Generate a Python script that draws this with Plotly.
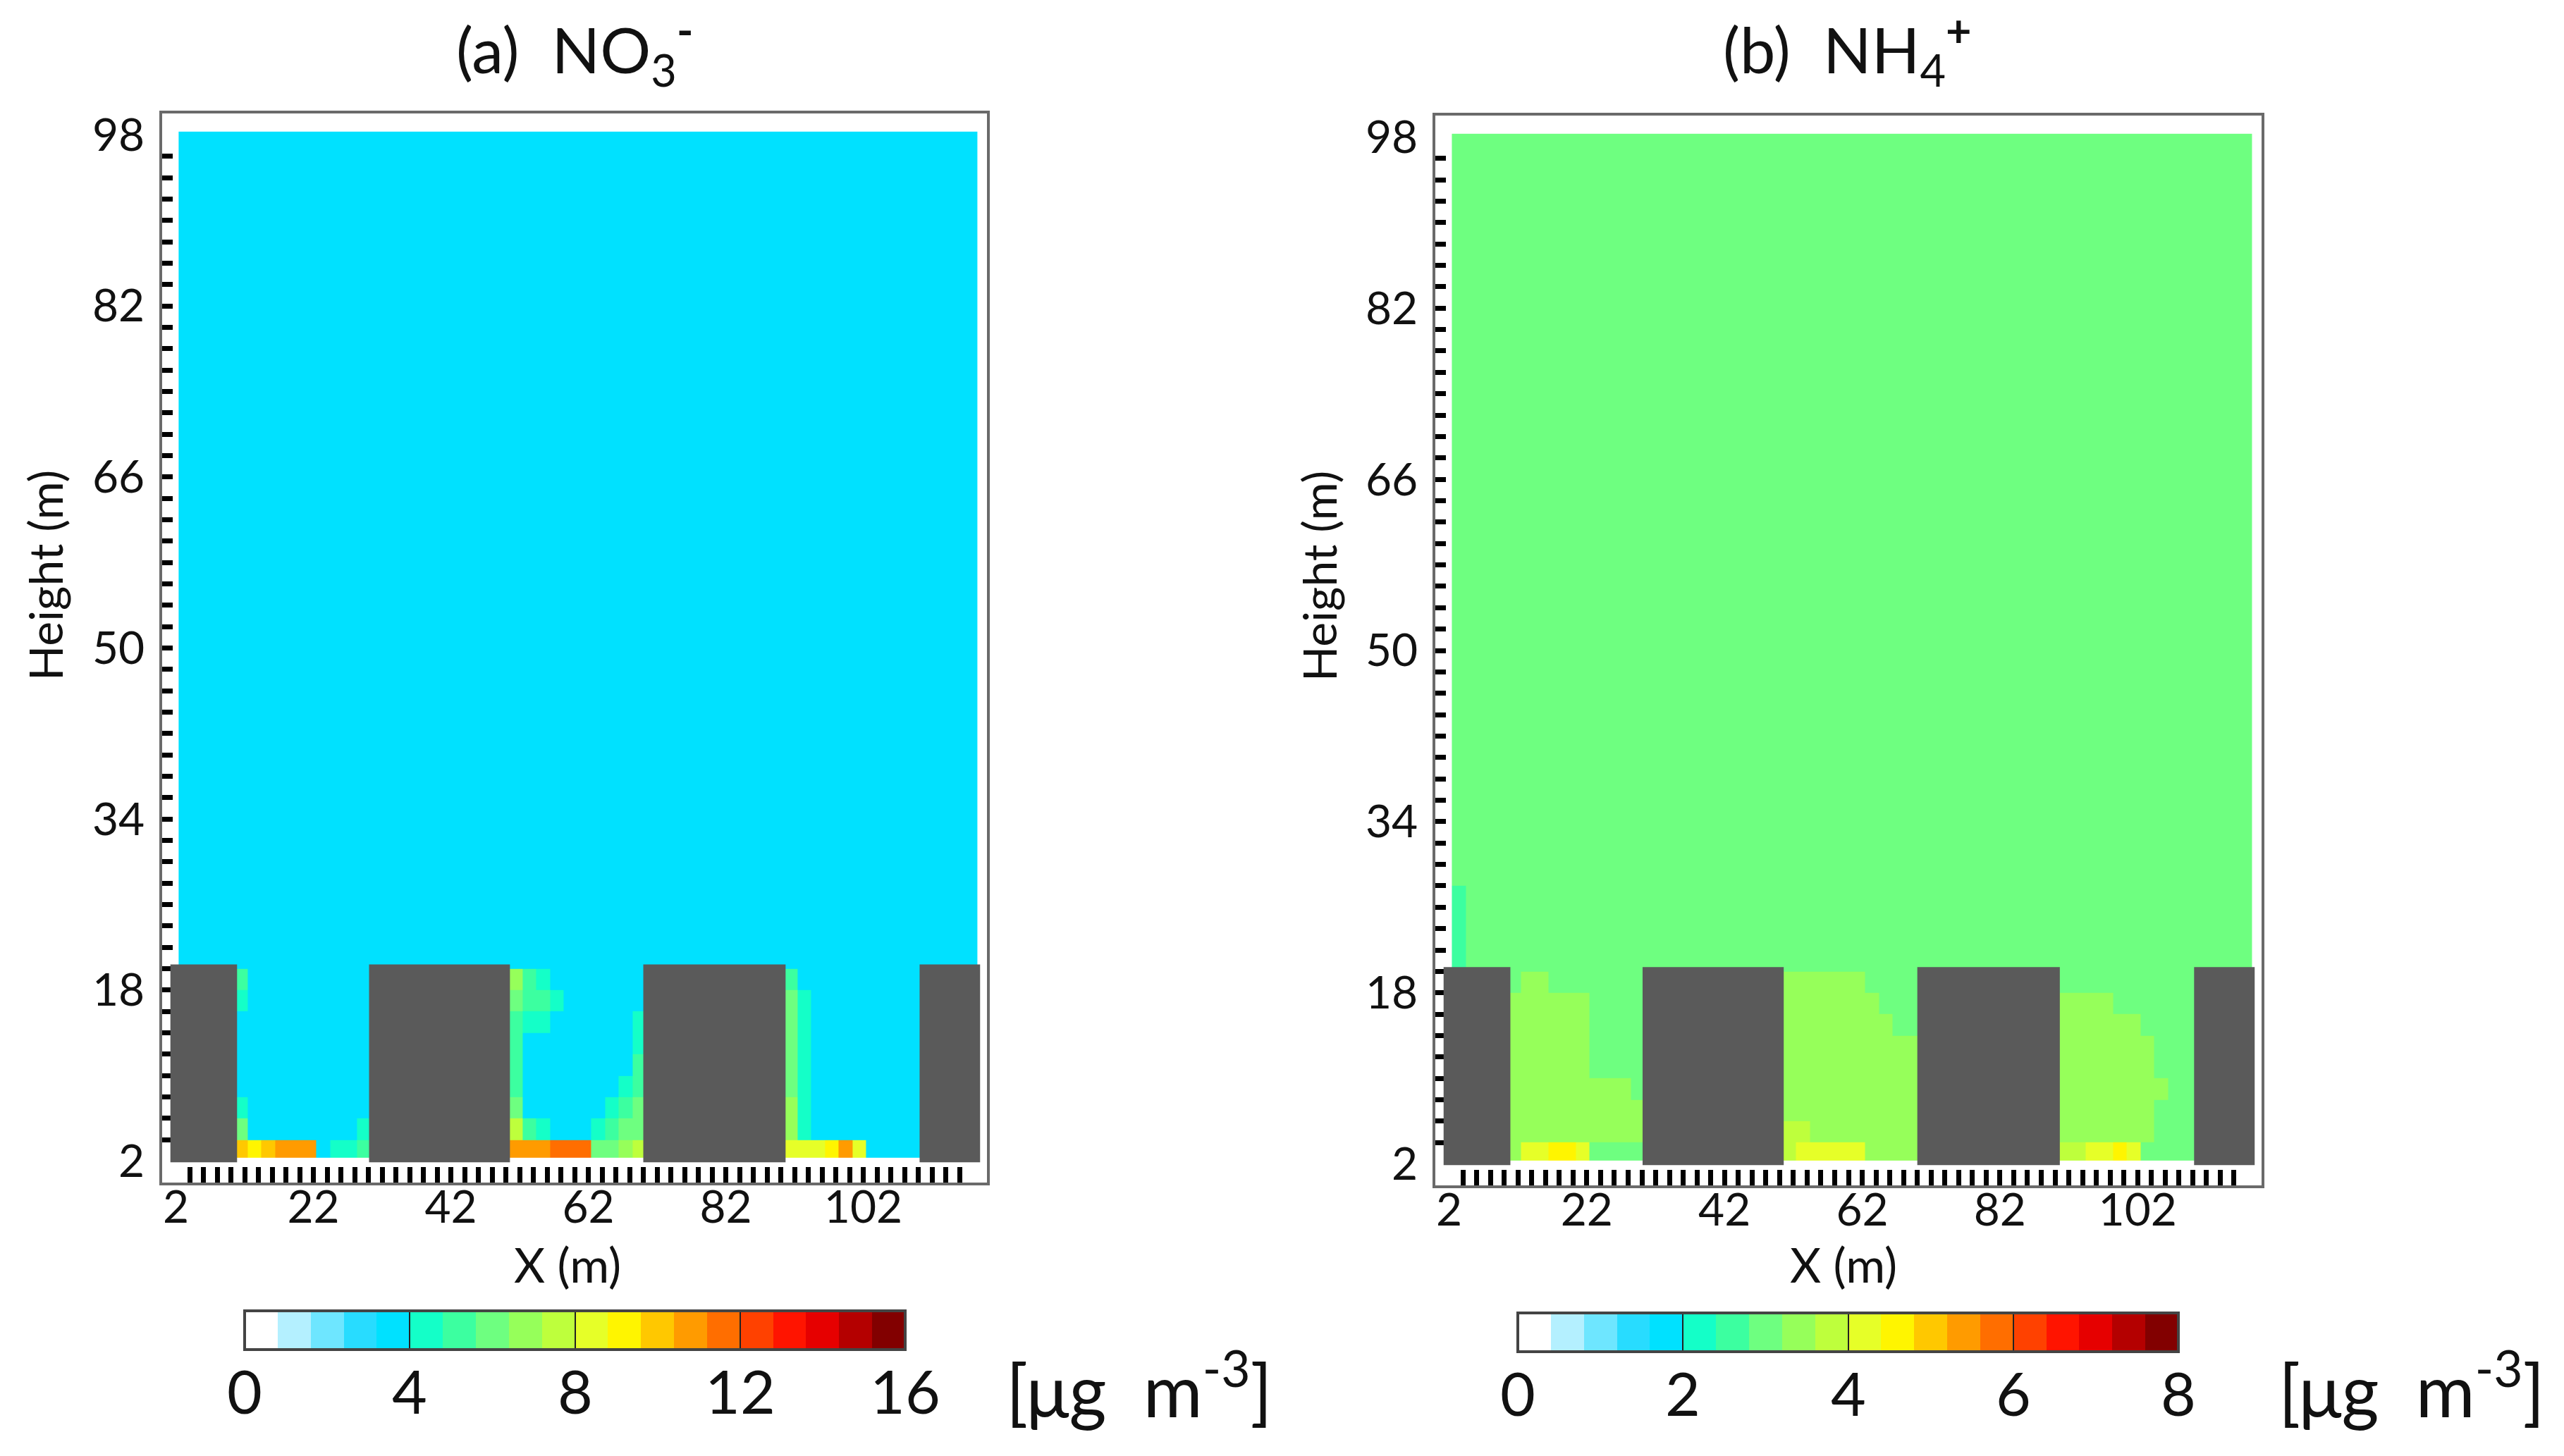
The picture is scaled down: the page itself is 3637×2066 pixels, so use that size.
import plotly.graph_objects as go

W = 3637
H = 2066
PAGE_MARGIN = 8

# 20 colour levels shared by both panels
level_colors = ['#FFFFFF', '#B4F0FF', '#6EE6FF', '#28DCFF', '#00E1FF',
                '#14FFC8', '#3CFFA0', '#6EFF80', '#96FF5A', '#BEFF3C',
                '#E6FF28', '#FFF500', '#FFC800', '#FF9B00', '#FF6E00',
                '#FF4100', '#FF1400', '#E60000', '#B40000', '#820000']

x_edges = [2.4 + 2 * i for i in range(58)] + [118.6]
y_edges = [2.3] + [4 + 2 * i for i in range(47)] + [98.3]

x_labels = [2, 22, 42, 62, 82, 102]
y_labels = [2, 18, 34, 50, 66, 82, 98]
x_minor = list(range(4, 118, 2))
y_minor = list(range(4, 98, 2))

building_left = [1.2, 30.1, 70.0, 110.2]
building_right = [10.9, 50.6, 90.7, 119.0]
building_bottom = 1.9
building_top = 20.4

# first column of each street canyon in the grid
canyon_start = [4, 24, 44]

no3_background = 3.6
# rows run from the ground up, ten columns per canyon
no3_canyon1 = [
    [10.0, 9.2, 10.0, 10.8, 10.8, 10.8, 3.6, 4.4, 4.4, 5.2],
    [6.0, 3.6, 3.6, 3.6, 3.6, 3.6, 3.6, 3.6, 3.6, 4.4],
    [4.4, 3.6, 3.6, 3.6, 3.6, 3.6, 3.6, 3.6, 3.6, 3.6],
    [3.6, 3.6, 3.6, 3.6, 3.6, 3.6, 3.6, 3.6, 3.6, 3.6],
    [3.6, 3.6, 3.6, 3.6, 3.6, 3.6, 3.6, 3.6, 3.6, 3.6],
    [3.6, 3.6, 3.6, 3.6, 3.6, 3.6, 3.6, 3.6, 3.6, 3.6],
    [3.6, 3.6, 3.6, 3.6, 3.6, 3.6, 3.6, 3.6, 3.6, 3.6],
    [4.4, 3.6, 3.6, 3.6, 3.6, 3.6, 3.6, 3.6, 3.6, 3.6],
    [5.2, 3.6, 3.6, 3.6, 3.6, 3.6, 3.6, 3.6, 3.6, 3.6],
]
no3_canyon2 = [
    [10.8, 10.8, 10.8, 11.6, 11.6, 11.6, 6.0, 6.0, 6.8, 7.6],
    [7.6, 5.2, 4.4, 3.6, 3.6, 3.6, 4.4, 5.2, 6.0, 6.0],
    [6.0, 3.6, 3.6, 3.6, 3.6, 3.6, 3.6, 4.4, 5.2, 6.0],
    [5.2, 3.6, 3.6, 3.6, 3.6, 3.6, 3.6, 3.6, 4.4, 5.2],
    [5.2, 3.6, 3.6, 3.6, 3.6, 3.6, 3.6, 3.6, 3.6, 5.2],
    [5.2, 3.6, 3.6, 3.6, 3.6, 3.6, 3.6, 3.6, 3.6, 4.4],
    [5.2, 4.4, 4.4, 3.6, 3.6, 3.6, 3.6, 3.6, 3.6, 4.4],
    [6.0, 5.2, 5.2, 4.4, 3.6, 3.6, 3.6, 3.6, 3.6, 3.6],
    [6.8, 5.2, 4.4, 3.6, 3.6, 3.6, 3.6, 3.6, 3.6, 3.6],
]
no3_canyon3 = [
    [8.4, 8.4, 8.4, 9.2, 10.8, 8.4, 3.6, 3.6, 3.6, 3.6],
    [6.8, 4.4, 3.6, 3.6, 3.6, 3.6, 3.6, 3.6, 3.6, 3.6],
    [6.8, 4.4, 3.6, 3.6, 3.6, 3.6, 3.6, 3.6, 3.6, 3.6],
    [6.0, 4.4, 3.6, 3.6, 3.6, 3.6, 3.6, 3.6, 3.6, 3.6],
    [6.0, 4.4, 3.6, 3.6, 3.6, 3.6, 3.6, 3.6, 3.6, 3.6],
    [6.0, 4.4, 3.6, 3.6, 3.6, 3.6, 3.6, 3.6, 3.6, 3.6],
    [6.0, 4.4, 3.6, 3.6, 3.6, 3.6, 3.6, 3.6, 3.6, 3.6],
    [6.0, 4.4, 3.6, 3.6, 3.6, 3.6, 3.6, 3.6, 3.6, 3.6],
    [5.2, 3.6, 3.6, 3.6, 3.6, 3.6, 3.6, 3.6, 3.6, 3.6],
]

nh4_background = 3.0
nh4_canyon1 = [
    [3.4, 4.2, 4.2, 4.6, 4.6, 4.2, 3.0, 3.0, 3.0, 3.0],
    [3.4, 3.4, 3.4, 3.4, 3.4, 3.4, 3.4, 3.4, 3.4, 3.4],
    [3.4, 3.4, 3.4, 3.4, 3.4, 3.4, 3.4, 3.4, 3.4, 3.4],
    [3.4, 3.4, 3.4, 3.4, 3.4, 3.4, 3.4, 3.4, 3.4, 3.0],
    [3.4, 3.4, 3.4, 3.4, 3.4, 3.4, 3.0, 3.0, 3.0, 3.0],
    [3.4, 3.4, 3.4, 3.4, 3.4, 3.4, 3.0, 3.0, 3.0, 3.0],
    [3.4, 3.4, 3.4, 3.4, 3.4, 3.4, 3.0, 3.0, 3.0, 3.0],
    [3.4, 3.4, 3.4, 3.4, 3.4, 3.4, 3.0, 3.0, 3.0, 3.0],
    [3.0, 3.4, 3.4, 3.0, 3.0, 3.0, 3.0, 3.0, 3.0, 3.0],
]
nh4_canyon2 = [
    [3.8, 4.2, 4.2, 4.2, 4.2, 4.2, 3.4, 3.4, 3.4, 3.4],
    [3.8, 3.8, 3.4, 3.4, 3.4, 3.4, 3.4, 3.4, 3.4, 3.4],
    [3.4, 3.4, 3.4, 3.4, 3.4, 3.4, 3.4, 3.4, 3.4, 3.4],
    [3.4, 3.4, 3.4, 3.4, 3.4, 3.4, 3.4, 3.4, 3.4, 3.4],
    [3.4, 3.4, 3.4, 3.4, 3.4, 3.4, 3.4, 3.4, 3.4, 3.4],
    [3.4, 3.4, 3.4, 3.4, 3.4, 3.4, 3.4, 3.4, 3.4, 3.4],
    [3.4, 3.4, 3.4, 3.4, 3.4, 3.4, 3.4, 3.4, 3.0, 3.0],
    [3.4, 3.4, 3.4, 3.4, 3.4, 3.4, 3.4, 3.0, 3.0, 3.0],
    [3.4, 3.4, 3.4, 3.4, 3.4, 3.4, 3.0, 3.0, 3.0, 3.0],
]
nh4_canyon3 = [
    [3.8, 3.8, 4.2, 4.2, 4.6, 4.2, 3.0, 3.0, 3.0, 3.0],
    [3.4, 3.4, 3.4, 3.4, 3.4, 3.4, 3.4, 3.0, 3.0, 3.0],
    [3.4, 3.4, 3.4, 3.4, 3.4, 3.4, 3.4, 3.0, 3.0, 3.0],
    [3.4, 3.4, 3.4, 3.4, 3.4, 3.4, 3.4, 3.4, 3.0, 3.0],
    [3.4, 3.4, 3.4, 3.4, 3.4, 3.4, 3.4, 3.0, 3.0, 3.0],
    [3.4, 3.4, 3.4, 3.4, 3.4, 3.4, 3.4, 3.0, 3.0, 3.0],
    [3.4, 3.4, 3.4, 3.4, 3.4, 3.4, 3.0, 3.0, 3.0, 3.0],
    [3.4, 3.4, 3.4, 3.4, 3.0, 3.0, 3.0, 3.0, 3.0, 3.0],
    [3.0, 3.0, 3.0, 3.0, 3.0, 3.0, 3.0, 3.0, 3.0, 3.0],
]
# slightly lower column along the left edge, just above the first building
nh4_edge_rows = [9, 10, 11, 12]
nh4_edge_value = 2.6

FONT = 'Lato'
BAR_LEN = 937


def build_grid(background, canyons):
    grid = [[background] * (len(x_edges) - 1) for _ in range(len(y_edges) - 1)]
    for start, canyon in zip(canyon_start, canyons):
        for r, row in enumerate(canyon):
            grid[r][start:start + len(row)] = row
    return grid


def stepped_scale():
    scale = []
    n = len(level_colors)
    for i, c in enumerate(level_colors):
        scale.append([i / n, c])
        scale.append([(i + 1) / n, c])
    return scale


def xp(px):
    return (px - PAGE_MARGIN) / W


def yp(px):
    return 1 - (px - PAGE_MARGIN) / H


no3_grid = build_grid(no3_background, [no3_canyon1, no3_canyon2, no3_canyon3])
nh4_grid = build_grid(nh4_background, [nh4_canyon1, nh4_canyon2, nh4_canyon3])
for r in nh4_edge_rows:
    nh4_grid[r][0] = nh4_edge_value

fig = go.Figure()

panels = [
    dict(grid=no3_grid, zmax=16, ticks=[0, 4, 8, 12, 16], xa='x', ya='y',
         frame=(230, 1400, 161, 1678), bar=(347, 1860),
         title='(a)  NO<sub>3</sub><sup><b>-</b></sup>', title_x=815, unit_x=1616, xlab_x=805, ylab_x=63),
    dict(grid=nh4_grid, zmax=8, ticks=[0, 2, 4, 6, 8], xa='x2', ya='y2',
         frame=(2036, 3208, 164, 1682), bar=(2153, 1863),
         title='(b)  NH<sub>4</sub><sup><b>+</b></sup>', title_x=2620, unit_x=3421, xlab_x=2615, ylab_x=1870),
]

for p in panels:
    fig.add_trace(go.Heatmap(
        x=x_edges, y=y_edges, z=p['grid'],
        xaxis=p['xa'], yaxis=p['ya'],
        zmin=0, zmax=p['zmax'],
        colorscale=stepped_scale(),
        colorbar=dict(
            orientation='h',
            x=xp(p['bar'][0]), xanchor='left', xpad=0,
            y=yp(p['bar'][1]), yanchor='top', ypad=0,
            len=BAR_LEN, lenmode='pixels',
            thickness=55, thicknessmode='pixels',
            outlinecolor='#444444', outlinewidth=4,
            tickvals=p['ticks'], ticks='inside', ticklen=55,
            tickcolor='#222222', tickwidth=2,
            showticklabels=False,
        ),
    ))

    for left, right in zip(building_left, building_right):
        fig.add_shape(type='rect', xref=p['xa'], yref=p['ya'],
                      x0=left, x1=right, y0=building_bottom, y1=building_top,
                      fillcolor='#5A5A5A', line_width=0, layer='above')

    # colour bar labels sit closer to the bar than plotly's own tick labels can
    for t in p['ticks']:
        fig.add_annotation(xref='paper', yref='paper',
                           x=xp(p['bar'][0] + BAR_LEN * t / p['zmax']), y=yp(p['bar'][1] + 112),
                           text=str(t), showarrow=False, xanchor='center', yanchor='middle',
                           font=dict(family=FONT, size=86, color='#111111'))

    fig.add_annotation(xref='paper', yref='paper', x=xp(p['title_x']), y=yp(70),
                       text=p['title'], showarrow=False, xanchor='center', yanchor='middle',
                       font=dict(family=FONT, size=90, color='#111111'))
    fig.add_annotation(xref='paper', yref='paper', x=xp(p['unit_x']), y=yp(1965),
                       text='[μg  m<sup>-3</sup>]', showarrow=False, xanchor='center', yanchor='middle',
                       font=dict(family=FONT, size=102, color='#111111'))
    fig.add_annotation(xref='paper', yref='paper', x=xp(p['xlab_x']), y=yp(1793),
                       text='X (m)', showarrow=False, xanchor='center', yanchor='middle',
                       font=dict(family=FONT, size=68, color='#111111'))
    fig.add_annotation(xref='paper', yref='paper', x=xp(p['ylab_x']), y=yp(817),
                       text='Height (m)', showarrow=False, textangle=-90,
                       xanchor='center', yanchor='middle',
                       font=dict(family=FONT, size=66, color='#111111'))

axis_style = dict(showgrid=False, zeroline=False, showline=True, mirror=True,
                  linecolor='#6A6A6A', linewidth=4, ticks='',
                  tickfont=dict(family=FONT, size=64, color='#111111'))

layout_axes = {}
for i, p in enumerate(panels):
    suffix = '' if i == 0 else str(i + 1)
    left, right, top, bottom = p['frame']
    layout_axes['xaxis' + suffix] = dict(
        axis_style, domain=[xp(left), xp(right)], range=[0, 120],
        anchor=p['ya'], tickvals=x_labels,
        minor=dict(tickvals=x_minor, ticks='inside', ticklen=22, tickwidth=7,
                   tickcolor='black', showgrid=False),
        ticklabelstandoff=-24)
    layout_axes['yaxis' + suffix] = dict(
        axis_style, domain=[yp(bottom), yp(top)], range=[0, 100],
        anchor=p['xa'], tickvals=y_labels,
        minor=dict(tickvals=y_minor, ticks='inside', ticklen=15, tickwidth=7,
                   tickcolor='black', showgrid=False),
        ticklabelstandoff=8)

fig.update_layout(
    width=W, height=H,
    margin=dict(l=0, r=0, t=0, b=0, autoexpand=False),
    paper_bgcolor='white', plot_bgcolor='white',
    showlegend=False,
    **layout_axes,
)

fig.write_html("out.html")
